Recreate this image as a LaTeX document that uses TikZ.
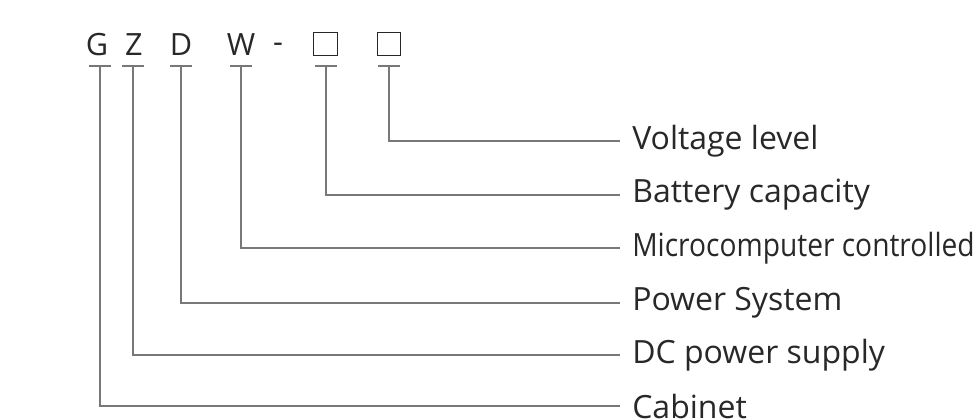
\documentclass[tikz,border=0pt]{standalone}
\usepackage{fontspec}
\setmainfont{Open Sans}
\usepackage{graphicx}
\usetikzlibrary{positioning}
\definecolor{linegray}{RGB}{120,120,120}
\definecolor{textgray}{RGB}{40,40,40}
\tikzset{
  code/.style={inner sep=0pt, text=textgray, font=\fontsize{23}{26}\selectfont},
  slot/.style={draw=textgray, line width=0.8pt, minimum width=17.5pt, minimum height=17.5pt, inner sep=0pt},
  label/.style={anchor=west, inner sep=0pt, text=textgray, font=\fontsize{24}{27}\selectfont},
  lead/.style={draw=linegray, line width=0.8pt}
}
\begin{document}
\begin{tikzpicture}[x=0.75pt, y=-0.75pt]
  \useasboundingbox (0,0) rectangle (980,420);
  % Code letters
  \node[code] (g) at (97,45) {G};
  \node[code] (z) at (134,45) {Z};
  \node[code] (d) at (181,45) {D};
  \node[code] (w) at (241,45) {W};
  \node[code] (dash) at (278,48) {-};
  \node[slot] (b1) at (325.5,44) {};
  \node[slot] (b2) at (389,44) {};

  % Labels
  \node[label] (volt) at (632,141) {Voltage level};
  \node[label] (batt) at (632,195) {Battery capacity};
  \node[label] (micro) at (632,248) {\scalebox{0.88}[1]{Microcomputer controlled}};
  \node[label] (power) at (632,303) {Power System};
  \node[label] (dc) at (632,355) {DC power supply};
  \node[label] (cab) at (632,406) {Cabinet};

  % Bars and leaders
  \foreach \nm/\x/\lab in {g/100/cab, z/133/dc, d/181/power, w/241/micro, b1/326/batt, b2/389/volt}{
    \coordinate (\nm-bar) at (\x,66);
    \draw[lead] ([xshift=-8.6pt]\nm-bar) -- ([xshift=8.6pt]\nm-bar);
    \draw[lead] (\nm-bar) |- ([xshift=-9pt]\lab.west);
  }
\end{tikzpicture}
\end{document}
